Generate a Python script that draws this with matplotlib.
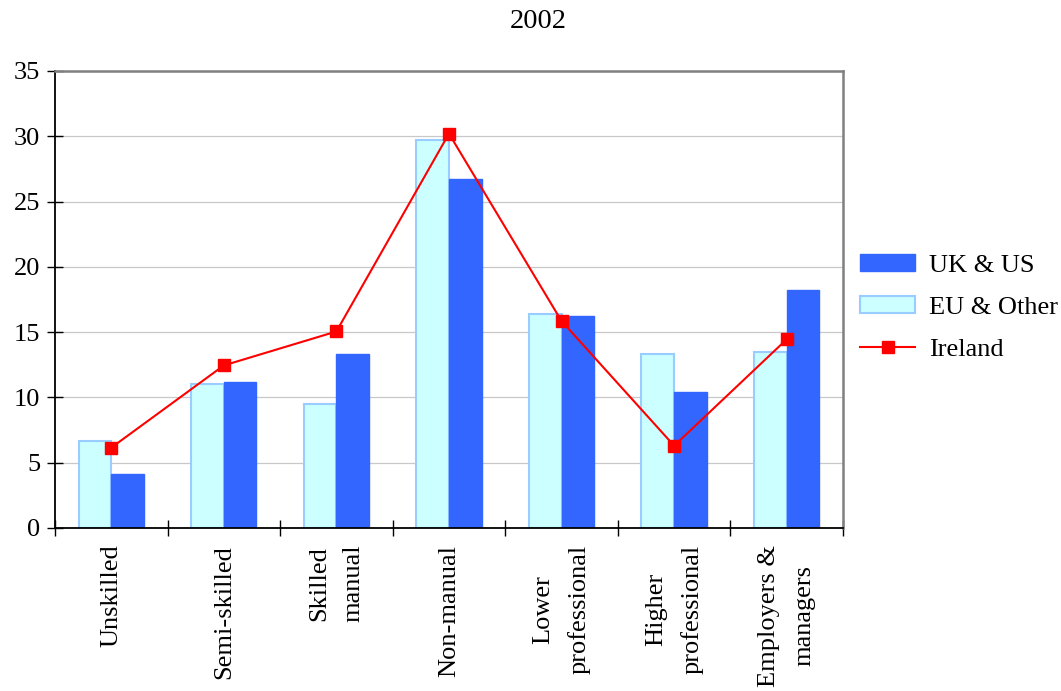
import matplotlib
matplotlib.use("Agg")
import matplotlib.pyplot as plt
import numpy as np
from matplotlib.patches import Patch
from matplotlib.lines import Line2D

plt.rcParams["font.family"] = ["Liberation Serif", "DejaVu Serif"]

categories = ["Unskilled", "Semi-skilled", "Skilled\nmanual", "Non-manual",
              "Lower\nprofessional", "Higher\nprofessional", "Employers &\nmanagers"]
eu_other = [6.7, 11.0, 9.5, 29.7, 16.4, 13.3, 13.5]
uk_us = [4.15, 11.2, 13.3, 26.7, 16.25, 10.4, 18.2]
ireland = [6.15, 12.45, 15.05, 30.2, 15.85, 6.3, 14.45]
title = "2002"

FS = 19
fig = plt.figure(figsize=(10.61, 6.91), dpi=100)
ax = fig.add_axes([0.0518, 0.2359, 0.7427, 0.6614])

x = np.arange(len(categories))
w = 0.29
ax.bar(x - w / 2, eu_other, width=w, color="#CCFFFF", edgecolor="#99CCFF",
       linewidth=1.5, zorder=2)
ax.bar(x + w / 2, uk_us, width=w, color="#3366FF", edgecolor="#3366FF",
       linewidth=1.0, zorder=2)
ax.plot(x, ireland, color="#FF0000", linewidth=1.5, marker="s",
        markersize=8.5, markerfacecolor="#FF0000", markeredgecolor="#FF0000",
        zorder=3)

ax.set_xlim(-0.5, len(categories) - 0.5)
ax.set_ylim(0, 35)
ax.set_yticks(np.arange(0, 36, 5))
ax.yaxis.grid(True, color="#C8C8C8", linewidth=0.9, zorder=0)
ax.set_axisbelow(True)

ax.set_xticks(x)
labels = ax.set_xticklabels(categories, rotation=90, fontsize=FS, ha="center",
                            va="top", multialignment="center")
for lab in labels:
    lab.set_linespacing(1.75)
ax.set_xticks(np.arange(-0.5, len(categories), 1.0), minor=True)
ax.tick_params(axis="x", which="major", length=0, pad=12)
ax.tick_params(axis="x", which="minor", direction="inout", length=12,
               width=1.0, color="black")
ax.tick_params(axis="y", direction="inout", length=11.5, width=1.0,
               labelsize=FS, pad=5, color="black")

for side in ("left", "bottom"):
    ax.spines[side].set_color("black")
    ax.spines[side].set_linewidth(1.3)
for side in ("top", "right"):
    ax.spines[side].set_color("#808080")
    ax.spines[side].set_linewidth(1.8)

fig.text(538 / 1061, 1 - 22 / 691, title, fontsize=20.5, ha="center", va="center")

handles = [
    Patch(facecolor="#3366FF", edgecolor="#3366FF", linewidth=1.0),
    Patch(facecolor="#CCFFFF", edgecolor="#99CCFF", linewidth=1.5),
    Line2D([], [], color="#FF0000", linewidth=1.5, marker="s", markersize=8.5),
]
fig.legend(handles, ["UK & US", "EU & Other", "Ireland"], loc="center left",
           bbox_to_anchor=(0.811, 0.555), frameon=False, fontsize=FS,
           borderpad=0, borderaxespad=0, handlelength=2.05, handleheight=0.6,
           handletextpad=0.55, labelspacing=0.74)

fig.savefig("out.png", dpi=100)
